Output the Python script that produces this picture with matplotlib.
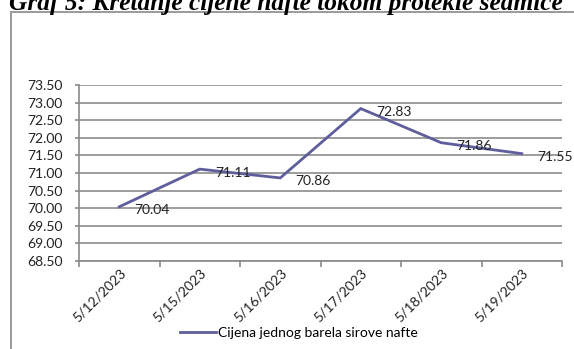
import matplotlib
matplotlib.use("Agg")
import matplotlib.pyplot as plt
from matplotlib.lines import Line2D

dates = ["5/12/2023", "5/15/2023", "5/16/2023", "5/17/2023", "5/18/2023", "5/19/2023"]
prices = [70.04, 71.11, 70.86, 72.83, 71.86, 71.55]
y_ticks = [68.50, 69.00, 69.50, 70.00, 70.50, 71.00, 71.50, 72.00, 72.50, 73.00, 73.50]
title = "Graf 5: Kretanje cijene nafte tokom protekle sedmice"
series_name = "Cijena jednog barela sirove nafte"

W, H = 574, 349
fig = plt.figure(figsize=(W / 100, H / 100), dpi=100)
fig.patch.set_facecolor("white")

# outer chart border (only top and left visible)
fig.add_artist(Line2D([11 / W, 1.0], [1 - 11.5 / H, 1 - 11.5 / H], color="#9a9a9a", lw=1.4))
fig.add_artist(Line2D([11 / W, 11 / W], [1 - 11.5 / H, 0], color="#9a9a9a", lw=1.4))

# title (partially cut off at top, as in the reference)
fig.text(9 / W, 1 - 10 / H, title, fontfamily="Liberation Serif", fontweight="bold",
         fontstyle="italic", fontsize=18.3, ha="left", va="baseline")

left, right, top, bottom = 79, 562, 85, 261
ax = fig.add_axes([left / W, 1 - bottom / H, (right - left) / W, (bottom - top) / H])

x = list(range(len(dates)))
color = "#5e5e9c"
ax.plot(x, prices, color=color, lw=2.0, solid_joinstyle="miter")

for xi, yi in zip(x, prices):
    ax.annotate(f"{yi:.2f}", (xi, yi), xytext=(11, -2.5), textcoords="offset points",
                ha="left", va="center", fontsize=10, fontfamily="Lato", color="#222222")

ax.set_xlim(-0.5, len(dates) - 0.5)
ax.set_ylim(68.5, 73.5)
ax.set_yticks(y_ticks)
ax.set_yticklabels([f"{v:.2f}" for v in y_ticks], fontfamily="Lato", fontsize=10, color="#222222")
ax.set_xticks(x)
ax.set_xticklabels(dates, rotation=45, ha="right", rotation_mode="anchor",
                   fontfamily="Lato", fontsize=10, color="#222222")
ax.tick_params(axis="x", length=0, pad=4)
ax.set_xticks([i - 0.5 for i in range(len(dates) + 1)], minor=True)
ax.tick_params(axis="x", which="minor", length=4, color="#8a8a8a", width=1.2)
ax.tick_params(axis="y", length=3, color="#8a8a8a", width=1.2, pad=9)

ax.grid(axis="y", color="#8c8c8c", lw=1.2)
ax.set_axisbelow(True)
for s in ["top", "right"]:
    ax.spines[s].set_visible(False)
for s in ["left", "bottom"]:
    ax.spines[s].set_color("#8a8a8a")
    ax.spines[s].set_linewidth(1.2)

fig.legend([Line2D([], [], color=color, lw=2.0)], [series_name],
           loc="center", bbox_to_anchor=(299 / W, 1 - 333 / H), frameon=False,
           prop={"family": "Lato", "size": 10}, handlelength=2.6, handletextpad=0.1)

fig.savefig("out.png", dpi=100, facecolor="white")
